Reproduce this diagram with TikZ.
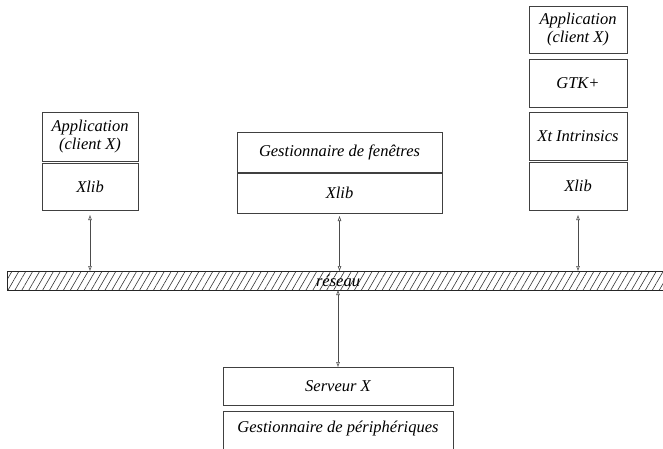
\documentclass[tikz,border=0pt]{standalone}
\usepackage{fontspec}
\setmainfont{Liberation Serif}
\usetikzlibrary{arrows.meta,patterns.meta}
\begin{document}
\begin{tikzpicture}[x=1pt,y=-1pt,
  box/.style={draw=black!75, line width=0.8pt, inner sep=0pt, outer sep=0pt,
    align=center, font=\itshape\fontsize{16.5}{18.5}\selectfont},
  netband/.style={draw=black!85, line width=0.8pt, inner sep=0pt, outer sep=0pt,
    pattern={Lines[angle=60,distance=6pt,line width=0.6pt]}, pattern color=black!80},
  lbl/.style={font=\itshape\fontsize{16.5}{18.5}\selectfont, inner sep=0pt},
  conn/.style={draw=black!70, line width=0.6pt,
    {Triangle[open,length=5pt,width=3.5pt]}-{Triangle[open,length=5pt,width=3.5pt]}}
]
\useasboundingbox (0,0) rectangle (663,448);
% left stack
\node[box, minimum width=96, minimum height=49] (app1) at (90,136.5) {Application\\(client X)};
\node[box, minimum width=96, minimum height=47] (xlib1) at (90,186.5) {Xlib};
% middle stack
\node[box, minimum width=205, minimum height=40] (wm) at (339.5,152) {Gestionnaire de fenêtres};
\node[box, minimum width=205, minimum height=40] (xlib2) at (339.5,193) {Xlib};
% right stack
\node[box, minimum width=98, minimum height=47] (app3) at (578,29.5) {Application\\(client X)};
\node[box, minimum width=98, minimum height=48] (gtk) at (578,83) {GTK+};
\node[box, minimum width=98, minimum height=48] (xt) at (578,136) {Xt Intrinsics};
\node[box, minimum width=98, minimum height=48] (xlib3) at (578,186) {Xlib};
% network
\node[netband, minimum width=666, minimum height=19] (net) at (340,280.5) {};
\node[lbl] (netlbl) at (338,280.5) {réseau};
% server
\node[box, minimum width=230, minimum height=38] (serv) at (338,386) {Serveur X};
\node[box, minimum width=230, minimum height=42] (periph) at (338,432) {};
\node[lbl] (periphlbl) at (338,429) {Gestionnaire de périphériques};
% connectors
\draw[conn] ([yshift=-5pt]xlib1.south) -- (xlib1.south |- net.north);
\draw[conn] ([yshift=-3pt]xlib2.south) -- (xlib2.south |- net.north);
\draw[conn] ([yshift=-5pt]xlib3.south) -- (xlib3.south |- net.north);
\draw[conn] (net.south -| serv.north) -- (serv.north);
\end{tikzpicture}
\end{document}
